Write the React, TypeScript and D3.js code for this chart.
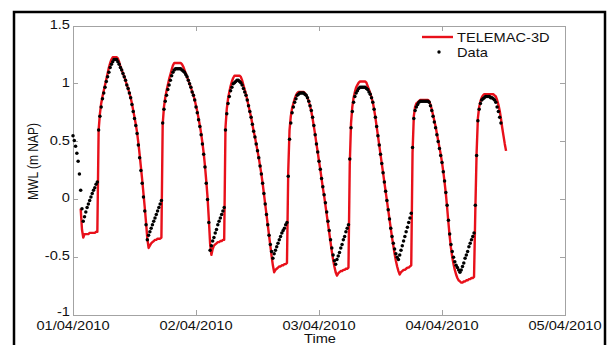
import React, { useRef, useEffect } from "react";
import * as d3 from "d3";

// MWL at the station, 15 min samples from 01/04/2010 00:00
const STEP_MIN = 15;
const dataStart = new Date(2010, 3, 1, 0, 0);
const observed = [
  0.55, 0.51, 0.46, 0.40, 0.33, 0.22, 0.08, -0.08, -0.19, -0.15,
  -0.11, -0.07, -0.04, -0.01, 0.02, 0.05, 0.08, 0.10, 0.13, 0.15,
  0.60, 0.72, 0.80, 0.87, 0.92, 0.97, 1.02, 1.06, 1.10, 1.14,
  1.17, 1.19, 1.21, 1.21, 1.21, 1.19, 1.17, 1.14, 1.12, 1.09,
  1.06, 1.03, 0.99, 0.96, 0.92, 0.88, 0.82, 0.76, 0.70, 0.64,
  0.57, 0.47, 0.36, 0.25, 0.14, 0.02, -0.10, -0.22, -0.35, -0.31,
  -0.28, -0.25, -0.22, -0.19, -0.16, -0.13, -0.10, -0.07, -0.04, -0.01,
  0.66, 0.78, 0.85, 0.90, 0.95, 0.99, 1.03, 1.07, 1.10, 1.12,
  1.13, 1.13, 1.13, 1.13, 1.13, 1.12, 1.11, 1.10, 1.08, 1.06,
  1.03, 1.00, 0.97, 0.93, 0.90, 0.86, 0.80, 0.75, 0.69, 0.63,
  0.56, 0.48, 0.39, 0.28, 0.14, 0.00, -0.20, -0.44, -0.40, -0.36,
  -0.33, -0.29, -0.26, -0.22, -0.19, -0.16, -0.13, -0.10, -0.07, 0.60,
  0.74, 0.83, 0.89, 0.94, 0.97, 1.00, 1.01, 1.02, 1.03, 1.03,
  1.02, 1.01, 0.99, 0.96, 0.93, 0.90, 0.86, 0.81, 0.76, 0.71,
  0.65, 0.59, 0.54, 0.48, 0.42, 0.36, 0.29, 0.22, 0.14, 0.05,
  -0.04, -0.13, -0.22, -0.31, -0.39, -0.45, -0.51, -0.47, -0.44, -0.41,
  -0.38, -0.35, -0.32, -0.29, -0.27, -0.25, -0.22, -0.20, 0.20, 0.52,
  0.66, 0.75, 0.80, 0.84, 0.87, 0.90, 0.91, 0.92, 0.92, 0.92,
  0.92, 0.91, 0.90, 0.88, 0.85, 0.81, 0.77, 0.71, 0.64, 0.56,
  0.48, 0.41, 0.33, 0.26, 0.18, 0.11, 0.04, -0.03, -0.11, -0.19,
  -0.27, -0.35, -0.42, -0.48, -0.53, -0.56, -0.52, -0.49, -0.46, -0.42,
  -0.39, -0.35, -0.32, -0.28, -0.25, -0.22, 0.35, 0.62, 0.76, 0.84,
  0.89, 0.92, 0.94, 0.96, 0.97, 0.97, 0.97, 0.97, 0.97, 0.96,
  0.95, 0.93, 0.91, 0.88, 0.84, 0.78, 0.71, 0.63, 0.55, 0.47,
  0.39, 0.31, 0.23, 0.15, 0.07, -0.01, -0.09, -0.17, -0.25, -0.32,
  -0.38, -0.43, -0.47, -0.50, -0.52, -0.48, -0.44, -0.40, -0.36, -0.32,
  -0.28, -0.24, -0.20, -0.16, -0.12, 0.45, 0.70, 0.77, 0.80, 0.82,
  0.84, 0.85, 0.85, 0.85, 0.85, 0.85, 0.85, 0.85, 0.84, 0.81,
  0.77, 0.72, 0.67, 0.62, 0.56, 0.50, 0.44, 0.38, 0.32, 0.24,
  0.16, 0.06, -0.05, -0.18, -0.30, -0.39, -0.45, -0.50, -0.54, -0.57,
  -0.59, -0.61, -0.63, -0.61, -0.58, -0.55, -0.51, -0.48, -0.45, -0.41,
  -0.38, -0.35, -0.32, -0.29, -0.05, 0.38, 0.68, 0.78, 0.83, 0.86,
  0.87, 0.88, 0.89, 0.89, 0.89, 0.89, 0.88, 0.88, 0.87, 0.86,
  0.84, 0.80, 0.76, 0.71, 0.66,
];

// TELEMAC-3D output, same step, starts 01/04/2010 01:30
const modelStart = new Date(2010, 3, 1, 1, 30);
const telemac = [
  -0.08, -0.26, -0.33, -0.30,
  -0.30, -0.30, -0.30, -0.29, -0.29, -0.29, -0.29, -0.29, -0.28, -0.28,
  0.60, 0.74, 0.83, 0.89, 0.94, 0.99, 1.04, 1.09, 1.14, 1.18,
  1.21, 1.23, 1.23, 1.23, 1.23, 1.22, 1.19, 1.15, 1.12, 1.09,
  1.06, 1.03, 0.99, 0.96, 0.92, 0.88, 0.83, 0.77, 0.71, 0.65,
  0.58, 0.49, 0.39, 0.28, 0.17, 0.05, -0.07, -0.20, -0.34, -0.42,
  -0.40, -0.38, -0.37, -0.36, -0.35, -0.35, -0.34, -0.34, -0.34, -0.33,
  0.65, 0.80, 0.88, 0.94, 0.99, 1.04, 1.08, 1.12, 1.16, 1.18,
  1.18, 1.18, 1.18, 1.18, 1.18, 1.17, 1.15, 1.12, 1.09, 1.06,
  1.03, 1.00, 0.97, 0.93, 0.90, 0.86, 0.81, 0.76, 0.70, 0.64,
  0.57, 0.49, 0.40, 0.29, 0.16, 0.02, -0.17, -0.38, -0.48, -0.43,
  -0.40, -0.39, -0.38, -0.37, -0.37, -0.36, -0.36, -0.35, -0.35, 0.62,
  0.78, 0.87, 0.93, 0.98, 1.02, 1.05, 1.07, 1.07, 1.07, 1.07,
  1.07, 1.06, 1.03, 0.99, 0.95, 0.91, 0.86, 0.81, 0.76, 0.71,
  0.65, 0.59, 0.54, 0.48, 0.42, 0.36, 0.29, 0.22, 0.14, 0.05,
  -0.04, -0.13, -0.22, -0.31, -0.40, -0.49, -0.57, -0.63, -0.61, -0.60,
  -0.59, -0.58, -0.58, -0.57, -0.57, -0.56, -0.56, -0.55, 0.25, 0.60,
  0.72, 0.79, 0.83, 0.87, 0.90, 0.92, 0.93, 0.93, 0.93, 0.93,
  0.93, 0.92, 0.90, 0.88, 0.85, 0.81, 0.76, 0.70, 0.63, 0.56,
  0.48, 0.41, 0.33, 0.26, 0.18, 0.10, 0.03, -0.05, -0.13, -0.21,
  -0.29, -0.37, -0.45, -0.52, -0.58, -0.63, -0.66, -0.64, -0.63, -0.62,
  -0.62, -0.61, -0.61, -0.60, -0.60, -0.59, 0.30, 0.66, 0.80, 0.88,
  0.93, 0.97, 0.99, 1.01, 1.02, 1.02, 1.02, 1.02, 1.02, 1.01,
  0.98, 0.95, 0.92, 0.88, 0.84, 0.78, 0.71, 0.63, 0.55, 0.47,
  0.39, 0.31, 0.23, 0.15, 0.07, -0.01, -0.09, -0.17, -0.25, -0.33,
  -0.40, -0.47, -0.53, -0.58, -0.62, -0.65, -0.63, -0.62, -0.61, -0.61,
  -0.60, -0.59, -0.59, -0.58, -0.57, 0.40, 0.72, 0.80, 0.83, 0.84,
  0.85, 0.86, 0.86, 0.86, 0.86, 0.86, 0.86, 0.86, 0.85, 0.82,
  0.78, 0.73, 0.68, 0.63, 0.57, 0.51, 0.45, 0.39, 0.32, 0.24,
  0.15, 0.05, -0.07, -0.20, -0.32, -0.42, -0.50, -0.56, -0.61, -0.65,
  -0.68, -0.70, -0.71, -0.72, -0.72, -0.71, -0.71, -0.70, -0.70, -0.69,
  -0.69, -0.68, -0.68, -0.67, -0.10, 0.40, 0.70, 0.80, 0.85, 0.88,
  0.90, 0.91, 0.91, 0.91, 0.91, 0.91, 0.91, 0.91, 0.91, 0.90,
  0.89, 0.86, 0.82, 0.77, 0.70, 0.62, 0.55, 0.48, 0.42,
];

const yTicks = [-1, -0.5, 0, 0.5, 1, 1.5];
const xTickDates = [
  new Date(2010, 3, 1),
  new Date(2010, 3, 2),
  new Date(2010, 3, 3),
  new Date(2010, 3, 4),
  new Date(2010, 3, 5),
];
const xTickLabels = ["01/04/2010", "02/04/2010", "03/04/2010", "04/04/2010", "05/04/2010"];

const FONT = "'Liberation Sans', Arial, Helvetica, sans-serif";
const STRETCH = 1.22; // glyphs in the figure are a bit wider than normal
const AXIS_GREY = "#a3a3a3";
const RED = "#e8101a";

export default function App() {
  const svgRef = useRef(null);

  useEffect(() => {
    if (!svgRef.current) return;
    const svg = d3.select(svgRef.current);
    svg.selectAll("*").remove();

    const left = 73, right = 565, top = 26, bottom = 315;

    const x = d3.scaleTime().domain([xTickDates[0], xTickDates[4]]).range([left, right]);
    const y = d3.scaleLinear().domain([-1, 1.5]).range([bottom, top]);

    const at = (start, i) => new Date(start.getTime() + i * STEP_MIN * 60000);
    const obsPts = observed.map((v, i) => ({ t: at(dataStart, i), v }));
    const modPts = telemac.map((v, i) => ({ t: at(modelStart, i), v }));

    svg.append("rect").attr("width", 610).attr("height", 345).attr("fill", "#fff");

    // outer frame of the figure
    svg.append("rect")
      .attr("x", 14).attr("y", 12)
      .attr("width", 591).attr("height", 400)
      .attr("fill", "none")
      .attr("stroke", "#000")
      .attr("stroke-width", 2.5);

    // axes box + inward ticks (both sides)
    const g = svg.append("g").attr("shape-rendering", "crispEdges");
    g.append("rect")
      .attr("x", left).attr("y", top)
      .attr("width", right - left).attr("height", bottom - top)
      .attr("fill", "none")
      .attr("stroke", AXIS_GREY);

    yTicks.forEach(v => {
      g.append("line").attr("x1", left).attr("x2", left + 5).attr("y1", y(v)).attr("y2", y(v)).attr("stroke", AXIS_GREY);
      g.append("line").attr("x1", right - 5).attr("x2", right).attr("y1", y(v)).attr("y2", y(v)).attr("stroke", AXIS_GREY);
    });
    xTickDates.forEach(d => {
      g.append("line").attr("x1", x(d)).attr("x2", x(d)).attr("y1", bottom).attr("y2", bottom - 5).attr("stroke", AXIS_GREY);
      g.append("line").attr("x1", x(d)).attr("x2", x(d)).attr("y1", top).attr("y2", top + 5).attr("stroke", AXIS_GREY);
    });

    const label = (txt, tx, ty, anchor, extra = "") =>
      svg.append("text")
        .attr("transform", `translate(${tx},${ty}) scale(${STRETCH},1)${extra}`)
        .attr("text-anchor", anchor)
        .attr("font-family", FONT)
        .attr("font-size", 12)
        .attr("fill", "#111")
        .text(txt);

    // lowest label sits a little higher, just above the date labels
    yTicks.forEach(v => label(String(v), 70, v === yTicks[0] ? y(v) + 1 : y(v) + 3, "end"));
    xTickDates.forEach((d, i) => label(xTickLabels[i], x(d), 330, "middle"));
    label("Time", (left + right) / 2 + 1, 342.5, "middle");
    label("MWL (m NAP)", 37.7, 161.5, "middle", " rotate(-90)");

    // model line
    const line = d3.line().x(d => x(d.t)).y(d => y(d.v));
    svg.append("path")
      .datum(modPts)
      .attr("d", line)
      .attr("fill", "none")
      .attr("stroke", RED)
      .attr("stroke-width", 2.4)
      .attr("stroke-linejoin", "round");

    // observations
    svg.append("g")
      .selectAll("circle")
      .data(obsPts)
      .enter()
      .append("circle")
      .attr("cx", d => x(d.t))
      .attr("cy", d => y(d.v))
      .attr("r", 1.75)
      .attr("fill", "#000");

    // legend
    svg.append("line")
      .attr("x1", 422).attr("x2", 453).attr("y1", 37).attr("y2", 37)
      .attr("stroke", RED).attr("stroke-width", 2.4);
    label("TELEMAC-3D", 457, 41.5, "start");
    svg.append("circle").attr("cx", 439).attr("cy", 52).attr("r", 1.7).attr("fill", "#000");
    label("Data", 457, 56.5, "start");
  }, []);

  return (
    <svg
      ref={svgRef}
      width={610}
      height={345}
      style={{ position: "absolute", left: 0, top: 0, display: "block" }}
    />
  );
}
